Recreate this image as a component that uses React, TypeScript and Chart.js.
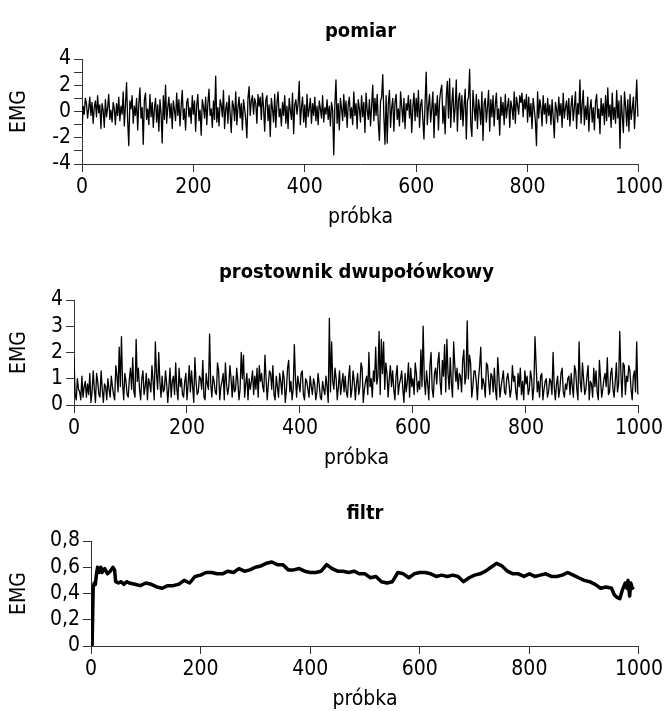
import React, { useEffect, useRef } from "react";
import Chart from "chart.js/auto";

// ---------- data ----------
const SAMPLE_STEP = 2; // sample index spacing of the typed readings
const xTicks = [0, 200, 400, 600, 800, 1000];

const pomiar = [
  -1.8, 0.4, -0.2, 1.0, 0.6, -0.5, 0.2, 1.1, -0.3, 0.7, -0.9, 0.3, 0.8, -0.4, 1.2, -0.1, 0.5, -1.3, 0.6, 0.1,
  -1.2, 0.9, -0.4, 0.3, 1.3, -0.6, 0.1, -0.8, 0.7, 0.2, -1.0, 0.6, -0.3, 1.1, -0.7, 0.4, -0.2, 1.5, -1.1, 0.5,
  2.2, -0.7, -2.6, 0.8, 0.2, 1.2, -0.9, 0.4, -0.3, 1.0, -1.4, 0.6, 1.8, -0.5, 0.3, -2.5, 0.9, 1.4, -0.6, 0.2,
  -1.0, 1.3, -0.4, 0.7, -1.2, 0.2, 1.0, -0.8, 0.5, -1.5, 0.9, -0.2, -2.4, 1.2, -0.6, 2.0, -0.9, 0.3, 1.1, -0.5,
  0.6, -1.3, 0.8, 0.1, -0.7, 1.4, -0.3, 0.9, -1.1, 0.4, 1.6, -0.6, 0.2, -1.4, 0.7, 1.0, -0.4, 0.3, -0.9, 1.2,
  -0.2, 0.8, -1.5, 0.5, 1.3, -0.7, 0.1, -1.8, 0.9, 0.4, -0.5, 1.1, -1.0, 0.6, 1.7, -0.3, 0.2, -1.2, 0.8, -0.6,
  2.7, -0.8, 0.3, -1.1, 0.9, 0.5, -0.4, 1.6, -1.3, 0.2, 0.7, -0.9, 1.2, -0.2, -1.6, 0.8, 0.4, -0.7, 1.5, -1.0,
  0.3, 1.1, -0.5, 0.6, -1.4, 0.9, 0.2, -0.6, -2.0, 1.0, 1.9, -0.3, 0.8, 1.2, -0.2, 1.0, 0.6, -0.9, 1.3, 0.4,
  1.1, -0.6, 1.4, 0.3, -1.5, 0.9, 1.2, -0.7, 0.5, -1.9, 1.0, 0.2, -0.8, 1.3, -1.2, 0.6, 1.5, -0.4, 0.2, -1.1,
  0.7, -0.3, 1.2, -0.9, 0.4, -1.3, 1.0, 0.1, -0.6, 1.4, -1.7, 0.5, 0.9, -0.2, 0.6, 2.3, -1.0, 0.3, 1.1, -0.8,
  0.5, -1.2, 1.3, -0.4, 0.2, 1.0, -0.9, 0.6, -0.3, 1.1, -0.7, 0.4, -1.0, 0.8, 0.2, -0.5, 1.2, -0.8, 0.3, -0.2,
  0.9, -0.6, 0.4, -1.1, 0.7, 0.1, -3.3, 0.5, 2.4, -0.9, 0.6, -1.4, 1.0, 0.2, -0.7, 1.3, -0.4, 0.8, -1.2, 0.5,
  1.1, -0.5, 0.3, -1.0, 1.5, -0.3, 0.6, -1.3, 0.9, 0.2, -0.8, 1.2, -0.4, 0.7, -1.6, 1.4, 0.1, -0.6, 0.9, -1.1,
  0.4, 2.0, -0.7, 1.0, -0.3, 1.3, -0.9, -2.2, 0.8, 1.1, 2.8, -0.4, -2.5, 1.2, -2.4, 0.6, 1.6, -1.2, 0.3, 1.0,
  -1.5, 0.7, 1.3, -0.6, 0.2, -1.1, 1.5, 0.4, -0.8, 1.0, -1.3, 0.6, 0.1, 1.2, -0.5, 0.9, -1.6, 0.3, 1.4, -0.7,
  1.0, -0.4, 1.6, -1.2, 0.5, 0.9, -0.6, -2.1, 0.7, 3.0, -1.0, 0.4, 1.3, -0.8, 0.2, 1.5, -2.0, 0.6, -0.3, 1.2,
  -1.4, 0.8, 1.6, 2.0, -0.9, 0.4, -1.7, 1.1, 2.3, -0.5, 2.5, -1.2, 0.6, 1.8, -0.8, 0.3, 2.4, -1.5, 0.9, 1.4,
  -0.6, 1.2, -1.1, 0.5, 1.7, -2.1, 0.8, 1.1, 3.2, -1.0, -1.9, 1.6, 0.3, -0.7, 1.3, -1.3, 0.9, 0.2, -1.0, 1.5,
  -2.2, 0.6, 1.0, -0.8, 0.3, 1.6, -1.5, 0.9, -0.4, 1.2, -1.1, 0.5, 1.4, -0.6, 0.2, -1.8, 1.1, -0.3, 0.7, -1.0,
  1.3, -0.5, 0.4, 1.0, -1.2, 0.8, 0.3, -0.6, 1.5, -0.9, 1.1, 0.5, -0.2, 1.2, 0.7, 1.4, -0.4, 0.9, 0.2, 1.3,
  -0.8, 1.1, -0.4, 0.6, -1.3, 1.0, 0.2, -0.7, -2.6, 1.5, -0.5, 0.9, 0.3, -1.1, 1.2, -0.2, 0.6, -0.9, 1.0, -0.3,
  0.5, -1.0, 0.9, -0.4, -2.0, 0.7, 0.2, -0.8, 1.1, -0.3, 0.6, -1.2, 1.4, -0.5, 0.3, 0.8, -0.6, 1.0, -1.1, 0.4,
  1.2, -0.7, 0.3, 1.5, -1.3, 0.6, -0.2, 2.4, -0.9, 0.5, 1.6, -1.0, 0.4, -0.6, 1.1, -1.5, 0.2, 0.9, -0.8, 0.3,
  -1.4, 0.7, 1.3, -0.5, 0.2, -1.7, 1.0, -0.3, 0.6, -1.0, 1.2, -0.7, 1.8, -0.4, 0.5, -1.2, 1.4, -0.6, 0.3, -0.9,
  1.6, -0.5, 0.8, -2.8, 1.2, -0.3, -1.6, 1.5, 0.4, -1.1, 0.9, -1.5, 1.3, -0.6, 0.2, 1.1, -1.3, 0.5, 2.4, -0.4,
];

const prostownik = [
  1.8, 0.4, 0.2, 1.0, 0.6, 0.5, 0.2, 1.1, 0.3, 0.7, 0.9, 0.3, 0.8, 0.4, 1.2, 0.1, 0.5, 1.3, 0.6, 0.1,
  1.2, 0.9, 0.4, 0.3, 1.3, 0.6, 0.1, 0.8, 0.7, 0.2, 1.0, 0.6, 0.3, 1.1, 0.7, 0.4, 0.2, 1.5, 1.1, 0.5,
  2.2, 0.7, 2.6, 0.8, 0.2, 1.2, 0.9, 0.4, 0.3, 1.0, 1.4, 0.6, 1.8, 0.5, 0.3, 2.5, 0.9, 1.4, 0.6, 0.2,
  1.0, 1.3, 0.4, 0.7, 1.2, 0.2, 1.0, 0.8, 0.5, 1.5, 0.9, 0.2, 2.4, 1.2, 0.6, 2.0, 0.9, 0.3, 1.1, 0.5,
  0.6, 1.3, 0.8, 0.1, 0.7, 1.4, 0.3, 0.9, 1.1, 0.4, 1.6, 0.6, 0.2, 1.4, 0.7, 1.0, 0.4, 0.3, 0.9, 1.2,
  0.2, 0.8, 1.5, 0.5, 1.3, 0.7, 0.1, 1.8, 0.9, 0.4, 0.5, 1.1, 1.0, 0.6, 1.7, 0.3, 0.2, 1.2, 0.8, 0.6,
  2.7, 0.8, 0.3, 1.1, 0.9, 0.5, 0.4, 1.6, 1.3, 0.2, 0.7, 0.9, 1.2, 0.2, 1.6, 0.8, 0.4, 0.7, 1.5, 1.0,
  0.3, 1.1, 0.5, 0.6, 1.4, 0.9, 0.2, 0.6, 2.0, 1.0, 1.9, 0.3, 0.8, 1.2, 0.2, 1.0, 0.6, 0.9, 1.3, 0.4,
  1.1, 0.6, 1.4, 0.3, 1.5, 0.9, 1.2, 0.7, 0.5, 1.9, 1.0, 0.2, 0.8, 1.3, 1.2, 0.6, 1.5, 0.4, 0.2, 1.1,
  0.7, 0.3, 1.2, 0.9, 0.4, 1.3, 1.0, 0.1, 0.6, 1.4, 1.7, 0.5, 0.9, 0.2, 0.6, 2.3, 1.0, 0.3, 1.1, 0.8,
  0.5, 1.2, 1.3, 0.4, 0.2, 1.0, 0.9, 0.6, 0.3, 1.1, 0.7, 0.4, 1.0, 0.8, 0.2, 0.5, 1.2, 0.8, 0.3, 0.2,
  0.9, 0.6, 0.4, 1.1, 0.7, 0.1, 3.3, 0.5, 2.4, 0.9, 0.6, 1.4, 1.0, 0.2, 0.7, 1.3, 0.4, 0.8, 1.2, 0.5,
  1.1, 0.5, 0.3, 1.0, 1.5, 0.3, 0.6, 1.3, 0.9, 0.2, 0.8, 1.2, 0.4, 0.7, 1.6, 1.4, 0.1, 0.6, 0.9, 1.1,
  0.4, 2.0, 0.7, 1.0, 0.3, 1.3, 0.9, 2.2, 0.8, 1.1, 2.8, 0.4, 2.5, 1.2, 2.4, 0.6, 1.6, 1.2, 0.3, 1.0,
  1.5, 0.7, 1.3, 0.6, 0.2, 1.1, 1.5, 0.4, 0.8, 1.0, 1.3, 0.6, 0.1, 1.2, 0.5, 0.9, 1.6, 0.3, 1.4, 0.7,
  1.0, 0.4, 1.6, 1.2, 0.5, 0.9, 0.6, 2.1, 0.7, 3.0, 1.0, 0.4, 1.3, 0.8, 0.2, 1.5, 2.0, 0.6, 0.3, 1.2,
  1.4, 0.8, 1.6, 2.0, 0.9, 0.4, 1.7, 1.1, 2.3, 0.5, 2.5, 1.2, 0.6, 1.8, 0.8, 0.3, 2.4, 1.5, 0.9, 1.4,
  0.6, 1.2, 1.1, 0.5, 1.7, 2.1, 0.8, 1.1, 3.2, 1.0, 1.9, 1.6, 0.3, 0.7, 1.3, 1.3, 0.9, 0.2, 1.0, 1.5,
  2.2, 0.6, 1.0, 0.8, 0.3, 1.6, 1.5, 0.9, 0.4, 1.2, 1.1, 0.5, 1.4, 0.6, 0.2, 1.8, 1.1, 0.3, 0.7, 1.0,
  1.3, 0.5, 0.4, 1.0, 1.2, 0.8, 0.3, 0.6, 1.5, 0.9, 1.1, 0.5, 0.2, 1.2, 0.7, 1.4, 0.4, 0.9, 0.2, 1.3,
  0.8, 1.1, 0.4, 0.6, 1.3, 1.0, 0.2, 0.7, 2.6, 1.5, 0.5, 0.9, 0.3, 1.1, 1.2, 0.2, 0.6, 0.9, 1.0, 0.3,
  0.5, 1.0, 0.9, 0.4, 2.0, 0.7, 0.2, 0.8, 1.1, 0.3, 0.6, 1.2, 1.4, 0.5, 0.3, 0.8, 0.6, 1.0, 1.1, 0.4,
  1.2, 0.7, 0.3, 1.5, 1.3, 0.6, 0.2, 2.4, 0.9, 0.5, 1.6, 1.0, 0.4, 0.6, 1.1, 1.5, 0.2, 0.9, 0.8, 0.3,
  1.4, 0.7, 1.3, 0.5, 0.2, 1.7, 1.0, 0.3, 0.6, 1.0, 1.2, 0.7, 1.8, 0.4, 0.5, 1.2, 1.4, 0.6, 0.3, 0.9,
  1.6, 0.5, 0.8, 2.8, 1.2, 0.3, 1.6, 1.5, 0.4, 1.1, 0.9, 1.5, 1.3, 0.6, 0.2, 1.1, 1.3, 0.5, 2.4, 0.4,
];

const filtrX = [
  0, 2, 4, 6, 8, 10, 12, 15, 18, 20, 25, 30, 35, 40, 43, 45, 50, 55, 60, 65, 70, 80, 90, 100, 110, 120, 130,
  140, 150, 160, 170, 180, 190, 200, 210, 220, 230, 240, 250, 260, 270, 280, 290, 300, 310, 320, 330, 340,
  350, 360, 370, 380, 390, 400, 410, 420, 430, 440, 450, 460, 470, 480, 490, 500, 510, 520, 530, 540, 550,
  560, 570, 580, 590, 600, 610, 620, 630, 640, 650, 660, 670, 680, 690, 700, 710, 720, 730, 740, 750, 760,
  770, 780, 790, 800, 810, 820, 830, 840, 850, 860, 870, 880, 890, 900, 910, 920, 930, 940, 950, 955, 960,
  965, 970, 975, 978, 980, 983, 985, 988, 990,
];
const filtrY = [
  0, 0, 0.45, 0.48, 0.47, 0.55, 0.6, 0.56, 0.6, 0.56, 0.59, 0.55, 0.57, 0.6, 0.58, 0.49, 0.48, 0.49, 0.47,
  0.49, 0.48, 0.47, 0.46, 0.48, 0.47, 0.45, 0.44, 0.46, 0.46, 0.47, 0.5, 0.48, 0.53, 0.54, 0.56, 0.56, 0.55,
  0.55, 0.57, 0.56, 0.59, 0.57, 0.58, 0.6, 0.61, 0.63, 0.64, 0.62, 0.62, 0.58, 0.58, 0.59, 0.57, 0.56, 0.56,
  0.57, 0.62, 0.59, 0.57, 0.57, 0.56, 0.57, 0.55, 0.55, 0.52, 0.53, 0.49, 0.48, 0.49, 0.56, 0.55, 0.52, 0.55,
  0.56, 0.56, 0.55, 0.53, 0.54, 0.53, 0.54, 0.53, 0.49, 0.52, 0.54, 0.55, 0.57, 0.6, 0.63, 0.61, 0.57, 0.55,
  0.55, 0.53, 0.55, 0.53, 0.54, 0.55, 0.53, 0.53, 0.54, 0.56, 0.54, 0.52, 0.5, 0.49, 0.47, 0.44, 0.45, 0.44,
  0.39, 0.37, 0.36, 0.43, 0.48, 0.44, 0.5, 0.38, 0.48, 0.44, 0.45,
];

// ---------- styling ----------
const FONT = "'DejaVu Sans Condensed', 'DejaVu Sans', sans-serif";
const BLOCK_H = 240;
const W = 666;

type Spec = {
  title: string;
  points: { x: number; y: number }[];
  yMin: number;
  yMax: number;
  yStep: number;
  yLabel: (v: number) => string;
  axisX: number;
  lineWidth: number;
};

const specs: Spec[] = [
  {
    title: "pomiar",
    points: pomiar.map((v, i) => ({ x: i * SAMPLE_STEP, y: v })),
    yMin: -4,
    yMax: 4,
    yStep: 1,
    yLabel: (v) => (v % 2 === 0 ? String(v) : ""),
    axisX: 82,
    lineWidth: 1.3,
  },
  {
    title: "prostownik dwupołówkowy",
    points: prostownik.map((v, i) => ({ x: i * SAMPLE_STEP, y: v })),
    yMin: 0,
    yMax: 4,
    yStep: 1,
    yLabel: (v) => String(v),
    axisX: 74,
    lineWidth: 1.3,
  },
  {
    title: "filtr",
    points: filtrX.map((x, i) => ({ x, y: filtrY[i] })),
    yMin: 0,
    yMax: 0.8,
    yStep: 0.2,
    yLabel: (v) => String(Number(v.toFixed(1))).replace(".", ","),
    axisX: 91,
    lineWidth: 3.5,
  },
];

function Panel({ spec }: { spec: Spec }) {
  const ref = useRef<HTMLCanvasElement | null>(null);
  useEffect(() => {
    if (!ref.current) return;
    const chart = new Chart(ref.current, {
      type: "line",
      data: {
        datasets: [
          {
            data: spec.points,
            borderColor: "#000",
            borderWidth: spec.lineWidth,
            borderJoinStyle: "round",
            pointRadius: 0,
            tension: 0,
            fill: false,
          },
        ],
      },
      options: {
        responsive: false,
        animation: false,
        layout: { padding: { left: 0, right: 24, top: 0, bottom: 0 } },
        plugins: {
          legend: { display: false },
          tooltip: { enabled: false },
          title: {
            display: true,
            text: spec.title,
            color: "#000",
            fullSize: false,
            font: { family: FONT, size: 20, weight: "bold" },
            padding: { top: 20, bottom: 15 },
          },
        },
        scales: {
          x: {
            type: "linear",
            min: 0,
            max: 1000,
            afterBuildTicks: (s: any) => {
              s.ticks = xTicks.map((v) => ({ value: v }));
            },
            afterFit: (s: any) => {
              s.height = BLOCK_H - 164;
            },
            ticks: {
              color: "#000",
              font: { family: FONT, size: 21 },
              padding: 3,
              maxRotation: 0,
              callback: (v: any) => String(v),
            },
            grid: { drawOnChartArea: false, drawTicks: true, tickLength: 8, color: "#333" },
            border: { display: true, color: "#333", width: 1 },
            title: {
              display: true,
              text: "próbka",
              color: "#000",
              font: { family: FONT, size: 21 },
              padding: { top: 0, bottom: 10 },
            },
          },
          y: {
            type: "linear",
            min: spec.yMin,
            max: spec.yMax,
            afterFit: (s: any) => {
              s.width = spec.axisX;
            },
            ticks: {
              stepSize: spec.yStep,
              color: "#000",
              font: { family: FONT, size: 21 },
              padding: 3,
              autoSkip: false,
              callback: (v: any) => spec.yLabel(Number(v)),
            },
            grid: { drawOnChartArea: false, drawTicks: true, tickLength: 8, color: "#333" },
            border: { display: true, color: "#333", width: 1 },
            title: {
              display: true,
              text: "EMG",
              color: "#000",
              font: { family: FONT, size: 21 },
              padding: { top: 7, bottom: 0 },
            },
          },
        },
      },
    });
    return () => chart.destroy();
  }, [spec]);
  return (
    <div style={{ width: W, height: BLOCK_H, position: "relative" }}>
      <canvas ref={ref} width={W} height={BLOCK_H} style={{ display: "block" }} />
    </div>
  );
}

export default function App() {
  useEffect(() => {
    document.body.style.margin = "0";
  }, []);
  return (
    <div style={{ position: "absolute", left: 0, top: 0, width: W, height: 711, overflow: "hidden", background: "#fff" }}>
      {specs.map((s, i) => (
        <div key={i} style={{ position: "absolute", left: 0, top: [0, 241, 482][i] }}>
          <Panel spec={s} />
        </div>
      ))}
    </div>
  );
}
